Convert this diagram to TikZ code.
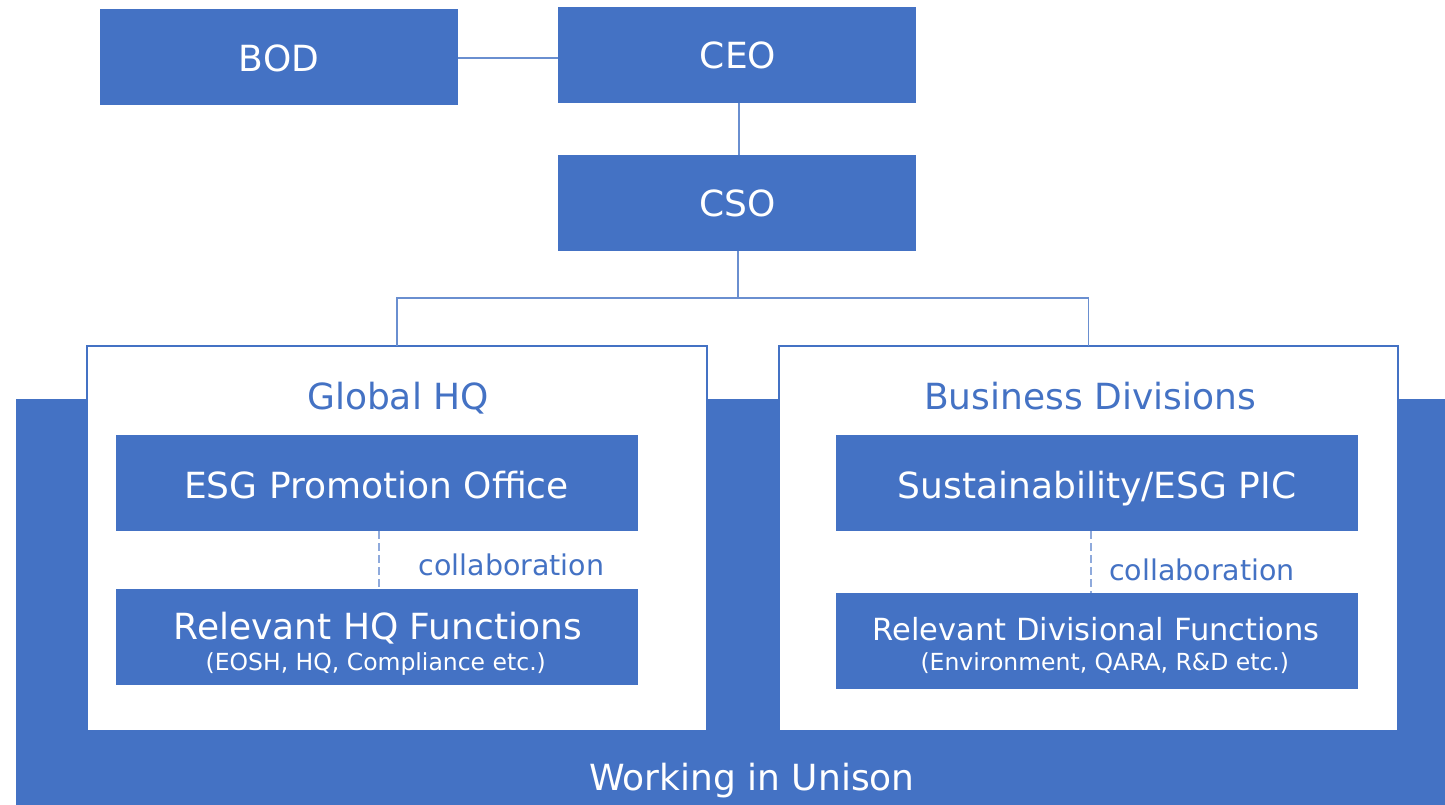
\documentclass[tikz,border=0pt]{standalone}
\usepackage{fontspec}
\setmainfont{DejaVu Sans}
\definecolor{accent}{HTML}{4472C4}
\definecolor{linecol}{HTML}{6A8FD0}
\definecolor{dashcol}{HTML}{8FAADC}
\begin{document}
\begin{tikzpicture}[x=1pt,y=-1pt,
  bluebox/.style={fill=accent,draw=none,inner sep=0pt,outer sep=0pt},
  whitebox/.style={fill=white,draw=accent,line width=2pt,inner sep=0pt,outer sep=0pt},
  bigtxt/.style={text=white,font=\fontsize{36}{40}\selectfont,inner sep=0pt,anchor=base},
  headtxt/.style={text=accent,font=\fontsize{36}{40}\selectfont,inner sep=0pt,anchor=base},
  coltxt/.style={text=accent,font=\fontsize{28.5}{32}\selectfont,inner sep=0pt,anchor=base},
  subtxt/.style={text=white,font=\fontsize{23.5}{26}\selectfont,inner sep=0pt,anchor=base},
  conn/.style={draw=linecol,line width=1.4pt},
  collab/.style={draw=dashcol,line width=1.4pt,dash pattern=on 8pt off 4pt}]
\useasboundingbox (0,0) rectangle (1445,805);
\fill[white] (0,0) rectangle (1445,805);
% band
\node[bluebox,minimum width=1429pt,minimum height=406pt] (band) at (730.5,602) {};
% top boxes
\node[bluebox,minimum width=358pt,minimum height=96pt] (bod) at (279,57) {};
\node[bluebox,minimum width=358pt,minimum height=96pt] (ceo) at (737,55) {};
\node[bluebox,minimum width=358pt,minimum height=96pt] (cso) at (737,203) {};
\node[bigtxt] (bodt) at (279,72) {BOD};
\node[bigtxt] (ceot) at (738,69) {CEO};
\node[bigtxt] (csot) at (738,217) {CSO};
% white containers
\node[whitebox,minimum width=620pt,minimum height=385pt] (ghq) at (397,538.5) {};
\node[whitebox,minimum width=619pt,minimum height=385pt] (bdv) at (1088.5,538.5) {};
\node[headtxt] (ghqt) at (398,409) {Global HQ};
\node[headtxt] (bdvt) at (1090,409.3) {Business Divisions};
% inner boxes
\node[bluebox,minimum width=522pt,minimum height=96pt] (esg) at (377,483) {};
\node[bluebox,minimum width=522pt,minimum height=96pt] (rhq) at (377,637) {};
\node[bluebox,minimum width=522pt,minimum height=96pt] (pic) at (1097,483) {};
\node[bluebox,minimum width=522pt,minimum height=96pt] (rdf) at (1097,640.7) {};
\node[bigtxt] (esgt) at (376.5,498.7) {ESG Promotion Office};
\node[bigtxt] (pict) at (1097,498.7) {Sustainability/ESG PIC};
\node[bigtxt] (rhqt) at (377.7,639.3) {Relevant HQ Functions};
\node[subtxt] (rhqs) at (375.8,670.7) {(EOSH, HQ, Compliance etc.)};
\node[bigtxt,font=\fontsize{30.5}{34}\selectfont] (rdft) at (1096.3,640.7) {Relevant Divisional Functions};
\node[subtxt] (rdfs) at (1104.8,670.7) {(Environment, QARA, R\&D etc.)};
\node[coltxt] (col1) at (511.5,575) {collaboration};
\node[coltxt] (col2) at (1202,580) {collaboration};
\node[bigtxt] (unison) at (752,790) {Working in Unison};
% connectors
\draw[conn] ([yshift=-1pt]bod.east) -- ([yshift=-1pt]bod.east -| ceo.west);
\draw[conn] ([xshift=2pt]ceo.south) -- ([xshift=2pt]cso.north);
\coordinate (split) at ([xshift=1pt,yshift=-47pt]cso.south);
\draw[conn] ([xshift=1pt]cso.south) -- (split);
\draw[conn] (ghq.north) |- (split) -| (bdv.north);
\draw[collab] ([xshift=2pt]esg.south) -- ([xshift=2pt]rhq.north);
\draw[collab] ([xshift=-6pt]pic.south) -- ([xshift=-6pt]rdf.north);
\end{tikzpicture}
\end{document}
